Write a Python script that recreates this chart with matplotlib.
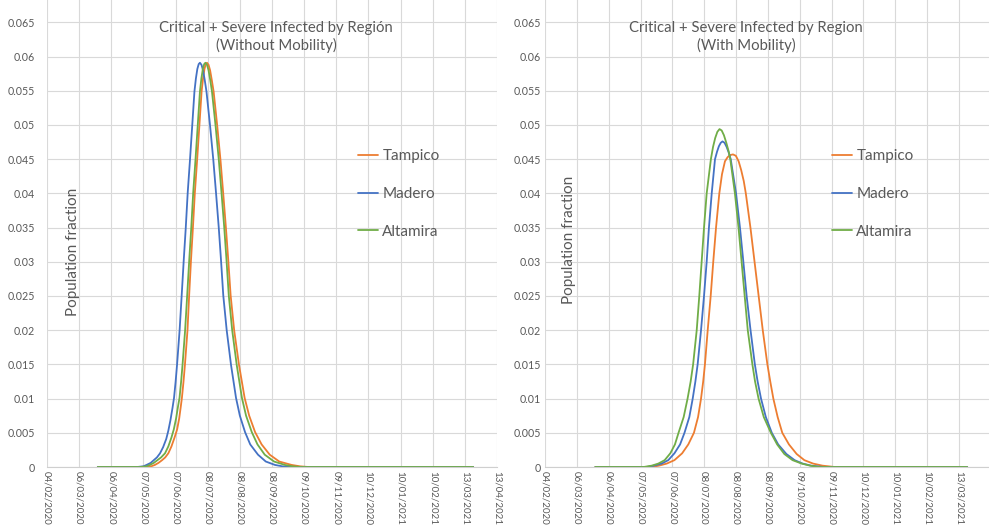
import matplotlib
matplotlib.use("Agg")
import matplotlib.pyplot as plt
import matplotlib.dates as mdates
import numpy as np
from datetime import datetime

plt.rcParams["font.family"] = ["Lato", "DejaVu Sans"]

# ---------------- data ----------------
sim_start = "2020-03-24"          # day 0 of the simulation
series_names = ["Tampico", "Madero", "Altamira"]

tick_labels = ["04/02/2020", "06/03/2020", "06/04/2020", "07/05/2020", "07/06/2020",
               "08/07/2020", "08/08/2020", "08/09/2020", "09/10/2020", "09/11/2020",
               "10/12/2020", "10/01/2021", "10/02/2021", "13/03/2021", "13/04/2021"]
y_ticks = [0, 0.005, 0.01, 0.015, 0.02, 0.025, 0.03, 0.035, 0.04, 0.045, 0.05, 0.055, 0.06, 0.065]
y_tick_labels = ["0", "0.005", "0.01", "0.015", "0.02", "0.025", "0.03", "0.035", "0.04",
                 "0.045", "0.05", "0.055", "0.06", "0.065"]

# ---- Without mobility (days since sim_start, population fraction) ----
nomob_madero_day = [0, 38, 44, 47, 51, 54, 57, 60, 63, 66, 68, 70, 72, 73.5, 75, 76.4, 78.9, 80.9,
                    82.9, 84.8, 86.7, 88.9, 91.1, 93.2, 94.6, 96.0, 97.3, 98.5, 100.0, 101.5, 103.1,
                    104.8, 108.2, 111.4, 114.0, 116.6, 118.8, 121.0, 124.3, 128.5, 133.3, 137, 142,
                    147, 154.5, 162, 170.9, 178, 186, 362]
nomob_madero_val = [0, 0, 0.0001, 0.0003, 0.0006, 0.0010, 0.0014, 0.0020, 0.0029, 0.0041, 0.0053,
                    0.0068, 0.0086, 0.0101, 0.0124, 0.0149, 0.0200, 0.0251, 0.0303, 0.0349, 0.0401,
                    0.0449, 0.0500, 0.0549, 0.0568, 0.0582, 0.0589, 0.0591, 0.0588, 0.0580, 0.0566,
                    0.0549, 0.0500, 0.0449, 0.0401, 0.0351, 0.0303, 0.0251, 0.0200, 0.0149, 0.0101,
                    0.0075, 0.0051, 0.0033, 0.0018, 0.0008, 0.0003, 0.0001, 0, 0]

nomob_altamira_day = [0, 41, 47, 50.2, 54, 57.5, 61, 64.8, 68, 71, 73.3, 75.5, 77.3, 78.8, 80.3,
                      81.7, 84.2, 86.2, 88.2, 90.1, 92.0, 94.2, 96.4, 98.5, 99.9, 101.3, 102.6,
                      103.8, 105.3, 106.8, 108.4, 110.1, 113.5, 116.7, 119.3, 121.9, 124.1, 126.3,
                      129.6, 134.0, 139.0, 143, 148.5, 154, 161.0, 170, 180.5, 188, 196, 362]
nomob_altamira_val = [0, 0, 0.0001, 0.0003, 0.0006, 0.0010, 0.0014, 0.0020, 0.0030, 0.0043,
                      0.0055, 0.0071, 0.0088, 0.0101, 0.0124, 0.0149, 0.0200, 0.0251, 0.0303,
                      0.0349, 0.0401, 0.0449, 0.0500, 0.0549, 0.0568, 0.0582, 0.0589, 0.0591,
                      0.0588, 0.0580, 0.0566, 0.0549, 0.0500, 0.0449, 0.0401, 0.0351, 0.0303,
                      0.0251, 0.0200, 0.0149, 0.0101, 0.0075, 0.0051, 0.0033, 0.0018, 0.0008,
                      0.0003, 0.0001, 0, 0]

nomob_tampico_day = [0, 45, 51.5, 55, 58.5, 62, 65, 68, 71, 74, 76.5, 78.5, 80, 81.1, 82.6, 84.0,
                     86.5, 88.1, 89.9, 91.7, 93.6, 95.8, 98.0, 100.1, 101.5, 102.9, 104.1, 105.3,
                     106.8, 108.3, 109.9, 111.7, 115.1, 118.3, 120.9, 123.5, 125.8, 128.1, 131.5,
                     136.2, 141.6, 146, 151.7, 158, 165.8, 175, 187, 195, 203, 362]
nomob_tampico_val = [0, 0, 0.0001, 0.0003, 0.0006, 0.0010, 0.0014, 0.0020, 0.0030, 0.0043,
                     0.0055, 0.0071, 0.0088, 0.0101, 0.0124, 0.0149, 0.0200, 0.0251, 0.0303,
                     0.0349, 0.0401, 0.0449, 0.0500, 0.0549, 0.0568, 0.0582, 0.0589, 0.0591,
                     0.0588, 0.0580, 0.0566, 0.0549, 0.0500, 0.0449, 0.0401, 0.0351, 0.0303,
                     0.0251, 0.0200, 0.0149, 0.0101, 0.0075, 0.0051, 0.0033, 0.0018, 0.0008,
                     0.0003, 0.0001, 0, 0]

# ---- With mobility ----
mob_altamira_day = [0, 47, 55, 61.3, 67.5, 73, 77.5, 81, 86, 89.8, 92.8, 95.2, 98.7, 101.2, 103.5,
                    105.8, 108.4, 112.5, 114.6, 116.7, 118.8, 120.9, 123.0, 125.2, 127.5, 129.7,
                    131.4, 135.9, 139.4, 142.4, 145.4, 148.4, 152.9, 155.5, 158.9, 164, 170.9,
                    177, 184, 192, 200.9, 209, 218, 362]
mob_altamira_val = [0, 0, 0.0002, 0.0005, 0.0010, 0.0020, 0.0033, 0.0050, 0.0073, 0.0100, 0.0125,
                    0.0150, 0.0200, 0.0250, 0.0300, 0.0350, 0.0400, 0.0450, 0.0468, 0.0481,
                    0.0490, 0.0494, 0.0492, 0.0485, 0.0474, 0.0462, 0.0450, 0.0400, 0.0350,
                    0.0300, 0.0250, 0.0200, 0.0150, 0.0125, 0.0100, 0.0073, 0.0050, 0.0033,
                    0.0019, 0.0010, 0.0005, 0.0002, 0, 0]

mob_madero_day = [0, 50, 57, 64.6, 71, 77, 82.5, 86.8, 91.5, 94.8, 97.4, 99.6, 102.9, 105.8, 108.4,
                  110.6, 113.3, 116.5, 118.5, 120.3, 122.1, 123.8, 125.8, 127.8, 129.8, 131.8,
                  137.0, 140.8, 144.1, 147.3, 151.1, 155.3, 158.0, 161.3, 166, 171.8, 178, 186,
                  194, 201.8, 210, 222, 362]
mob_madero_val = [0, 0, 0.0002, 0.0005, 0.0010, 0.0020, 0.0033, 0.0050, 0.0073, 0.0100, 0.0125,
                  0.0150, 0.0200, 0.0250, 0.0300, 0.0350, 0.0400, 0.0450, 0.0461, 0.0469, 0.0474,
                  0.0476, 0.0474, 0.0468, 0.0460, 0.0450, 0.0400, 0.0350, 0.0300, 0.0250, 0.0200,
                  0.0150, 0.0125, 0.0100, 0.0073, 0.0050, 0.0033, 0.0019, 0.0010, 0.0005, 0.0002,
                  0, 0]

mob_tampico_day = [0, 55, 62, 69.5, 77, 84.5, 90.5, 96, 100, 102.9, 105, 106.7, 109.4, 112.3,
                   114.8, 117.5, 120.7, 123.3, 126.2, 128.8, 131.2, 134.0, 136.8, 139.5, 142.0,
                   144.5, 146.5, 151, 155, 159, 163, 167.5, 170.3, 173.3, 177.5, 182, 188.5, 196,
                   203.5, 212, 221, 233, 362]
mob_tampico_val = [0, 0, 0.0002, 0.0005, 0.0010, 0.0020, 0.0033, 0.0050, 0.0073, 0.0100, 0.0125,
                   0.0150, 0.0200, 0.0250, 0.0300, 0.0350, 0.0400, 0.0428, 0.0447, 0.0453,
                   0.0456, 0.0457, 0.0455, 0.0447, 0.0434, 0.0418, 0.0400, 0.0350, 0.0300,
                   0.0250, 0.0200, 0.0150, 0.0125, 0.0100, 0.0073, 0.0050, 0.0033, 0.0019,
                   0.0010, 0.0005, 0.0002, 0, 0]

# ---------------- style ----------------
colors = {"Tampico": "#ED7D31", "Madero": "#4472C4", "Altamira": "#70AD47"}
text_col = "#595959"
grid_col = "#D9D9D9"

W, H = 989, 529
fig = plt.figure(figsize=(W / 100, H / 100), dpi=100)
fig.patch.set_facecolor("white")

start_num = mdates.date2num(np.datetime64(sim_start))
tick_pos = [mdates.date2num(datetime.strptime(s, "%d/%m/%Y")) for s in tick_labels]


def px_axes(x0, x1, y_zero=467, y_top=-11.8):
    return [x0 / W, (H - y_zero) / H, (x1 - x0) / W, (y_zero - y_top) / H]


def draw_panel(ax, data, ypad):
    for name, (days, vals) in data.items():
        ax.plot(start_num + np.asarray(days, dtype=float), vals, color=colors[name],
                lw=1.3, label=name, solid_joinstyle="round", solid_capstyle="round")
    ax.set_xlim(tick_pos[0], tick_pos[-1])
    ax.set_ylim(0, 0.07)
    ax.set_xticks(tick_pos)
    ax.set_xticklabels(tick_labels, rotation=-90)
    ax.set_yticks(y_ticks)
    ax.set_yticklabels(y_tick_labels)
    ax.tick_params(axis="both", length=0, colors=text_col)
    ax.tick_params(axis="y", pad=ypad, labelsize=7.7)
    ax.tick_params(axis="x", pad=3, labelsize=7.0)
    ax.grid(True, color=grid_col, lw=0.8)
    ax.set_axisbelow(True)
    for s in ["top", "right", "left"]:
        ax.spines[s].set_visible(False)
    ax.spines["bottom"].set_color("#CFCFCF")
    ax.spines["bottom"].set_linewidth(0.8)
    ax.patch.set_alpha(0)


ax1 = fig.add_axes(px_axes(47, 497))
draw_panel(ax1, {"Tampico": (nomob_tampico_day, nomob_tampico_val),
                 "Madero": (nomob_madero_day, nomob_madero_val),
                 "Altamira": (nomob_altamira_day, nomob_altamira_val)}, ypad=9)

ax2 = fig.add_axes(px_axes(545, 990.8))
draw_panel(ax2, {"Tampico": (mob_tampico_day, mob_tampico_val),
                 "Madero": (mob_madero_day, mob_madero_val),
                 "Altamira": (mob_altamira_day, mob_altamira_val)}, ypad=3)

# titles
fig.text(276 / W, 1 - 37 / H, "Critical + Severe Infected by Región\n(Without Mobility)",
         ha="center", va="center", ma="center", fontsize=10.7, color=text_col, linespacing=1.2)
fig.text(746 / W, 1 - 37 / H, "Critical + Severe Infected by Region\n(With Mobility)",
         ha="center", va="center", ma="center", fontsize=10.7, color=text_col, linespacing=1.2)

# axis titles
fig.text(73 / W, 1 - 252 / H, "Population fraction", rotation=90, ha="center", va="center",
         fontsize=11, color=text_col)
fig.text(569 / W, 1 - 240 / H, "Population fraction", rotation=90, ha="center", va="center",
         fontsize=11, color=text_col)

# legends
for ax, lx in [(ax1, 358), (ax2, 832)]:
    leg = ax.legend(loc="center left", bbox_to_anchor=(lx / W, 1 - 194 / H),
                    bbox_transform=fig.transFigure, frameon=False, fontsize=11,
                    handlelength=1.3, handletextpad=0.3, labelspacing=1.55,
                    borderaxespad=0, borderpad=0)
    for t in leg.get_texts():
        t.set_color(text_col)

fig.savefig("out.png", dpi=100, facecolor="white")
